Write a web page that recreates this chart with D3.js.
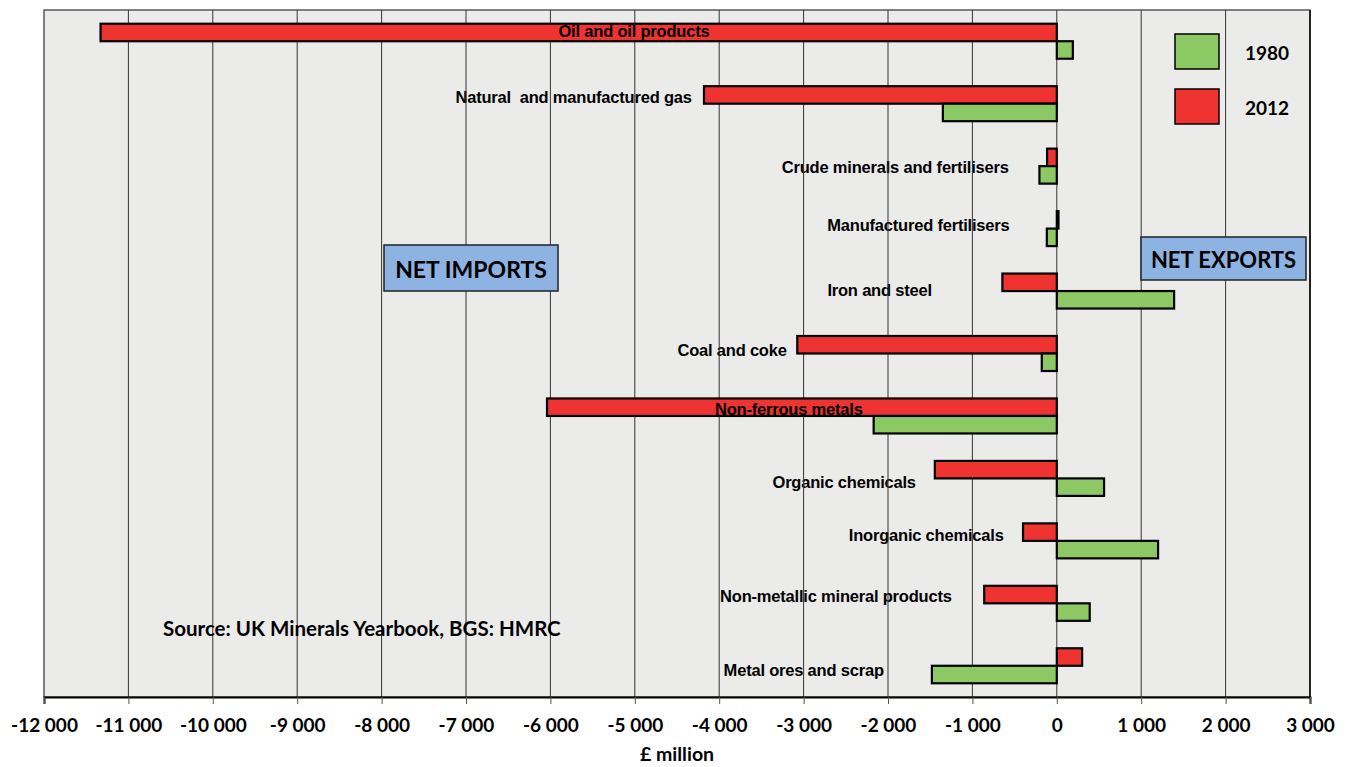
<!DOCTYPE html>
<html>
<head>
<meta charset="utf-8">
<script src="https://cdn.jsdelivr.net/npm/d3@7"></script>
<style>
  html, body { margin: 0; padding: 0; background: #ffffff; }
  svg { display: block; }
</style>
</head>
<body>
<svg id="chart" width="1354" height="767"></svg>
<script>
// ---- data ----
const categories = [
  "Oil and oil products",
  "Natural  and manufactured gas",
  "Crude minerals and fertilisers",
  "Manufactured fertilisers",
  "Iron and steel",
  "Coal and coke",
  "Non-ferrous metals",
  "Organic chemicals",
  "Inorganic chemicals",
  "Non-metallic mineral products",
  "Metal ores and scrap"
];
const values2012 = [-11330, -4180, -115, 20, -645, -3075, -6040, -1445, -400, -860, 300];
const values1980 = [190, -1350, -206, -118, 1390, -178, -2170, 560, 1200, 390, -1480];
const seriesNames = ["1980", "2012"];
const xTicks = [-12000, -11000, -10000, -9000, -8000, -7000, -6000, -5000, -4000, -3000, -2000, -1000, 0, 1000, 2000, 3000];

// label anchors (data units) – annotation layout
const labelAt = [-5010, -4325, -570, -560, -1480, -3200, -3175, -1670, -630, -1245, -2050];
const labelAnchor = ["middle", "end", "end", "end", "end", "end", "middle", "end", "end", "end", "end"];
const labelDy = [-10, -7, 1, -4, -1, -4, -7, 4, -6, -7, 4];
const labelOnBar = [true, false, false, false, false, false, true, false, false, false, false];

// ---- layout ----
const svg = d3.select("#chart");
const plot = { left: 44, right: 1310, top: 10, bottom: 697 };
const colors = { "1980": "#8cc864", "2012": "#ef3330" };

const x = d3.scaleLinear().domain([-12000, 3000]).range([plot.left, plot.right]);
const y = d3.scaleBand().domain(categories).range([plot.top, plot.bottom]).paddingInner(0).paddingOuter(0);
const barH = 17.5;

// plot background
svg.append("rect")
  .attr("x", plot.left).attr("y", plot.top)
  .attr("width", plot.right - plot.left).attr("height", plot.bottom - plot.top)
  .attr("fill", "#ebebea").attr("stroke", "#333").attr("stroke-width", 1.2);

const labelFont = "'Liberation Sans', Arial, sans-serif";
function drawLabels(filterOnBar) {
  svg.append("g").selectAll("text")
    .data(categories.map((c, i) => ({ c, i })).filter(d => labelOnBar[d.i] === filterOnBar))
    .join("text")
    .attr("x", d => x(labelAt[d.i]))
    .attr("y", d => y(d.c) + y.bandwidth() / 2 + labelDy[d.i])
    .attr("text-anchor", d => labelAnchor[d.i])
    .attr("dominant-baseline", "central")
    .attr("font-family", labelFont)
    .attr("font-weight", "bold")
    .attr("font-size", 16.5)
    .attr("letter-spacing", -0.2)
    .attr("fill", "#000")
    .attr("style", "white-space: pre")
    .text(d => d.c);
}

// labels behind grid
drawLabels(false);

// gridlines
svg.append("g").selectAll("line")
  .data(xTicks.slice(1, -1))
  .join("line")
  .attr("x1", d => x(d)).attr("x2", d => x(d))
  .attr("y1", plot.top).attr("y2", plot.bottom)
  .attr("stroke", "#333").attr("stroke-width", 1);

// bars
const bars = svg.append("g");
categories.forEach((c, i) => {
  const cy = y(c) + y.bandwidth() / 2;
  const v12 = values2012[i], v80 = values1980[i];
  bars.append("rect")
    .attr("x", x(Math.min(0, v12))).attr("y", cy - barH)
    .attr("width", Math.abs(x(v12) - x(0))).attr("height", barH)
    .attr("fill", colors["2012"]).attr("stroke", "#000").attr("stroke-width", 2.2);
  bars.append("rect")
    .attr("x", x(Math.min(0, v80))).attr("y", cy)
    .attr("width", Math.abs(x(v80) - x(0))).attr("height", barH)
    .attr("fill", colors["1980"]).attr("stroke", "#000").attr("stroke-width", 2.2);
});

// labels on bars
drawLabels(true);

// right border redraw
svg.append("line")
  .attr("x1", plot.right).attr("x2", plot.right).attr("y1", plot.top).attr("y2", plot.bottom)
  .attr("stroke", "#222").attr("stroke-width", 2);

// x axis
const axis = d3.axisBottom(x).tickValues(xTicks).tickSize(7).tickPadding(15)
  .tickFormat(d => d3.format(",")(d).replace(/,/g, " ").replace("−", "-"));
const gx = svg.append("g").attr("transform", `translate(0,${plot.bottom})`).call(axis);
gx.select(".domain").attr("stroke", "#000").attr("stroke-width", 2);
gx.selectAll(".tick line").attr("stroke", "#555").attr("stroke-width", 1);
gx.selectAll(".tick text")
  .attr("font-family", "Lato, sans-serif").attr("font-weight", "bold")
  .attr("font-size", 19).attr("fill", "#000");

// axis title
svg.append("text")
  .attr("x", 677).attr("y", 753)
  .attr("text-anchor", "middle").attr("dominant-baseline", "central")
  .attr("font-family", "Lato, sans-serif").attr("font-weight", "bold").attr("font-size", 19.5)
  .text("£ million");

// legend
const legend = svg.append("g");
seriesNames.forEach((s, i) => {
  const ly = 34 + i * 55;
  legend.append("rect")
    .attr("x", 1175).attr("y", ly).attr("width", 44).attr("height", 35)
    .attr("fill", colors[s]).attr("stroke", "#000").attr("stroke-width", 1.5);
  legend.append("text")
    .attr("x", 1245).attr("y", ly + 18)
    .attr("dominant-baseline", "central")
    .attr("font-family", "Lato, sans-serif").attr("font-weight", "bold").attr("font-size", 19)
    .text(s);
});

// NET IMPORTS / NET EXPORTS boxes
function box(x0, y0, w, h, txt, fs) {
  svg.append("rect").attr("x", x0).attr("y", y0).attr("width", w).attr("height", h)
    .attr("fill", "#8db3e2").attr("stroke", "#222").attr("stroke-width", 1.5);
  svg.append("text").attr("x", x0 + w / 2).attr("y", y0 + h / 2 + 1)
    .attr("text-anchor", "middle").attr("dominant-baseline", "central")
    .attr("font-family", "Lato, sans-serif").attr("font-weight", "bold").attr("font-size", fs)
    .text(txt);
}
box(384, 245, 174, 46, "NET IMPORTS", 23);
box(1141, 237, 165, 43, "NET EXPORTS", 22);

// source
svg.append("text")
  .attr("x", 163).attr("y", 628)
  .attr("dominant-baseline", "central")
  .attr("font-family", "Lato, sans-serif").attr("font-weight", "bold").attr("font-size", 20.5)
  .text("Source: UK Minerals Yearbook, BGS: HMRC");
</script>
</body>
</html>
